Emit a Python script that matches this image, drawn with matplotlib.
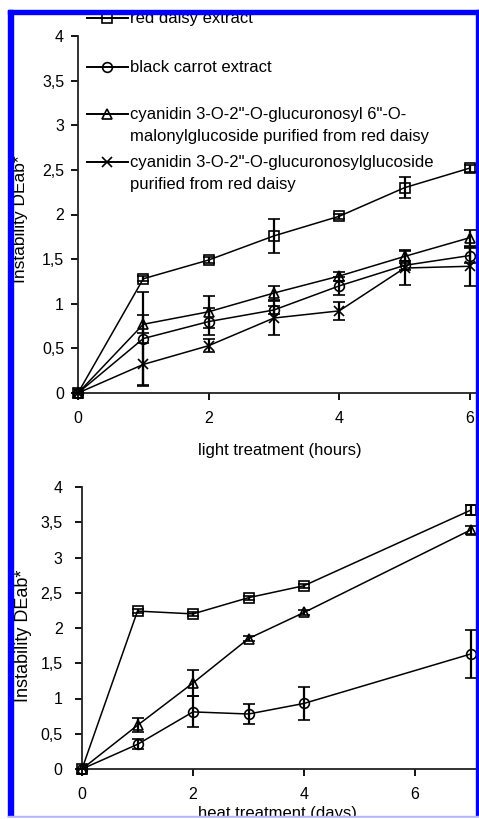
import numpy as np
import matplotlib
matplotlib.use("Agg")
import matplotlib.pyplot as plt
from matplotlib.lines import Line2D
from matplotlib.patches import Rectangle

plt.rcParams['font.family'] = ['Liberation Sans', 'DejaVu Sans']

# ---- data: light treatment (hours) ----
hours = [0, 1, 2, 3, 4, 5, 6]
light_red = [0, 1.28, 1.49, 1.76, 1.98, 2.30, 2.52]
light_red_err = [0, 0.03, 0.03, 0.19, 0.03, 0.12, 0.04]
light_carrot = [0, 0.61, 0.80, 0.93, 1.20, 1.43, 1.54]
light_carrot_err = [0, 0.52, 0.15, 0.04, 0.10, 0.05, 0.08]
light_malonyl = [0, 0.77, 0.91, 1.12, 1.31, 1.53, 1.74]
light_malonyl_err = [0, 0.10, 0.18, 0.08, 0.05, 0.07, 0.09]
light_gluc = [0, 0.32, 0.53, 0.84, 0.92, 1.40, 1.42]
light_gluc_err = [0, 0.24, 0.07, 0.19, 0.10, 0.19, 0.22]

# ---- data: heat treatment (days) ----
days = [0, 1, 2, 3, 4, 7]
heat_red = [0, 2.24, 2.20, 2.43, 2.60, 3.67]
heat_red_err = [0, 0.03, 0.03, 0.03, 0.03, 0.07]
heat_malonyl = [0, 0.62, 1.22, 1.85, 2.22, 3.39]
heat_malonyl_err = [0, 0.10, 0.19, 0.03, 0.03, 0.06]
heat_carrot = [0, 0.35, 0.81, 0.78, 0.93, 1.63]
heat_carrot_err = [0, 0.07, 0.22, 0.14, 0.24, 0.34]

yticks = [0, 0.5, 1, 1.5, 2, 2.5, 3, 3.5, 4]
xticks = [0, 2, 4, 6]
legend_labels = ["red daisy extract",
                 "black carrot extract",
                 'cyanidin 3-O-2"-O-glucuronosyl 6"-O-\nmalonylglucoside purified from red daisy',
                 'cyanidin 3-O-2"-O-glucuronosylglucoside\npurified from red daisy']
legend_markers = ['s', 'o', '^', 'x']

W, H = 479, 819
fig = plt.figure(figsize=(W / 100, H / 100), dpi=100)

def fx(px):
    return px / W

def fy(py):
    return 1 - py / H

def style_axes(ax, xmax, ypad):
    ax.set_ylim(0, 4)
    ax.set_xlim(0, xmax)
    for s in ['top', 'right']:
        ax.spines[s].set_visible(False)
    for s in ['left', 'bottom']:
        ax.spines[s].set_linewidth(1.3)
        ax.spines[s].set_color('#222222')
    ax.set_yticks(yticks)
    ax.set_yticklabels([f"{v:g}".replace('.', ',') for v in yticks])
    ax.set_xticks(xticks)
    ax.tick_params(axis='both', direction='out', length=5, width=1.3, labelsize=11.5)
    ax.tick_params(axis='x', pad=8)
    ax.tick_params(axis='y', pad=ypad)

def series(ax, x, y, err, marker):
    ax.errorbar(x, y, yerr=err, color='black', lw=1.1, marker=marker, ms=7,
                mfc='none', mec='black', mew=1.2, ecolor='black', elinewidth=1.6,
                capsize=4, capthick=1.6, clip_on=False, zorder=3)

# top panel
ax1 = fig.add_axes([fx(78), fy(393), fx(479) - fx(78), (393 - 36) / H])
style_axes(ax1, (479 - 78) / 65.3, 5)
series(ax1, hours, light_red, light_red_err, 's')
series(ax1, hours, light_carrot, light_carrot_err, 'o')
series(ax1, hours, light_malonyl, light_malonyl_err, '^')
series(ax1, hours, light_gluc, light_gluc_err, 'x')

# bottom panel
ax2 = fig.add_axes([fx(82), fy(769), (479 - 82) / W, (769 - 487) / H])
style_axes(ax2, (479 - 82) / 55.5, 9)
series(ax2, days, heat_red, heat_red_err, 's')
series(ax2, days, heat_malonyl, heat_malonyl_err, '^')
series(ax2, days, heat_carrot, heat_carrot_err, 'o')

# axis labels
fig.text(fx(21), fy(219), "Instability DEab*", rotation=90, ha='center', va='center', fontsize=12.5)
fig.text(fx(24), fy(636), "Instability DEab*", rotation=90, ha='center', va='center', fontsize=13)
fig.text(fx(280), fy(450), "light treatment (hours)", ha='center', va='center', fontsize=12)
fig.text(fx(277), fy(806), "heat treatment (days)", ha='center', va='top', fontsize=12)

# legend drawn by hand
leg_y = [18, 67, 114, 162]
for lab, mk, yy in zip(legend_labels, legend_markers, leg_y):
    fig.add_artist(Line2D([fx(87), fx(128)], [fy(yy), fy(yy)], color='black', lw=1.4,
                          transform=fig.transFigure))
    fig.add_artist(Line2D([fx(107)], [fy(yy)], marker=mk, ms=7, mfc='none', mec='black',
                          mew=1.2, transform=fig.transFigure))
    for i, line in enumerate(lab.split('\n')):
        fig.text(fx(130), fy(yy + 22 * i), line, ha='left', va='center', fontsize=12)

# blue frame
fig.add_artist(Rectangle((fx(8), fy(817)), fx(5), (817 - 10) / H, color='#0000ff',
                         transform=fig.transFigure, zorder=20))
fig.add_artist(Rectangle((fx(8), fy(14)), 1, 4 / H, color='#0000ff',
                         transform=fig.transFigure, zorder=20))
fig.add_artist(Rectangle((fx(476), fy(817)), fx(3), (817 - 10) / H, color='#0000ff',
                         transform=fig.transFigure, zorder=20))
fig.add_artist(Rectangle((fx(8), fy(818)), 1, 2 / H, color='#b4b4ff',
                         transform=fig.transFigure, zorder=20))
fig.add_artist(Rectangle((0, 0), 1, 1 / H, color='white',
                         transform=fig.transFigure, zorder=21))

fig.savefig("out.png", dpi=100)
